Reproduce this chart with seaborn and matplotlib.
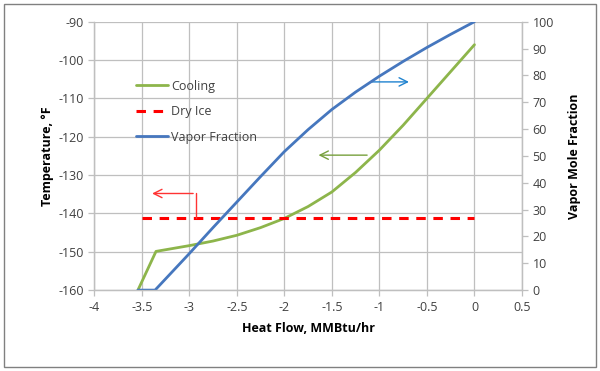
import numpy as np
import pandas as pd
import seaborn as sns
import matplotlib.pyplot as plt
from matplotlib.patches import Rectangle

# values
cool_x = [-3.54, -3.35, -3.0, -2.75, -2.5, -2.25, -2.0, -1.75, -1.5, -1.25, -1.0, -0.75, -0.5, -0.25, 0.0]
cool_t = [-160, -149.9, -148.4, -147.2, -145.7, -143.7, -141.3, -138.2, -134.4, -129.3, -123.5, -117.0, -110.0, -103.0, -96.0]

vap_x = [-3.54, -3.36, -3.0, -2.75, -2.5, -2.25, -2.0, -1.75, -1.5, -1.25, -1.0, -0.75, -0.5, -0.25, 0.0]
vap_frac = [0, 0, 13.6, 23.3, 32.8, 42.3, 51.6, 59.8, 67.3, 73.8, 79.7, 85.2, 90.4, 95.3, 100]

ice_x = [-3.5, 0.0]
ice_t = [-141.3, -141.3]

x_ticks = [-4, -3.5, -3, -2.5, -2, -1.5, -1, -0.5, 0, 0.5]
left_ticks = [-160, -150, -140, -130, -120, -110, -100, -90]
right_ticks = [0, 10, 20, 30, 40, 50, 60, 70, 80, 90, 100]

cooling = pd.DataFrame({"x": cool_x, "y": cool_t})
vapor = pd.DataFrame({"x": vap_x, "y": vap_frac})
dry_ice = pd.DataFrame({"x": ice_x, "y": ice_t})

sns.set_style("white")
plt.rcParams["font.family"] = ["Open Sans", "DejaVu Sans"]
plt.rcParams["axes.unicode_minus"] = False

green = "#8DB54B"
blue = "#4677BE"
grid_c = "#BFBFBF"
txt_c = "#404040"

fig = plt.figure(figsize=(6, 3.71), dpi=100)
ax = fig.add_axes([0.157, 0.218, 0.713, 0.7235])
ax2 = ax.twinx()

sns.lineplot(data=cooling, x="x", y="y", ax=ax, color=green, lw=2, label="Cooling", sort=False)
sns.lineplot(data=dry_ice, x="x", y="y", ax=ax, color="red", lw=2.2, ls=(0, (3.1, 2.5)), label="Dry Ice")
sns.lineplot(data=vapor, x="x", y="y", ax=ax2, color=blue, lw=2, label="Vapor Fraction", sort=False)

ax.set_xlim(-4, 0.5)
ax.set_ylim(-160, -90)
ax2.set_ylim(0, 100)
ax.set_xticks(x_ticks)
ax.set_xticklabels([f"{t:g}" for t in x_ticks])
ax.set_yticks(left_ticks)
ax2.set_yticks(right_ticks)

ax.grid(True, color=grid_c, lw=0.9)
ax.set_axisbelow(True)
for a in (ax, ax2):
    for s in a.spines.values():
        s.set_color(grid_c)
        s.set_linewidth(0.9)
    a.tick_params(colors=grid_c, labelcolor=txt_c, labelsize=9, length=4, width=0.9, direction="out")
ax.tick_params(axis="both", which="both", left=True, bottom=True)
ax2.tick_params(axis="y", right=True)
ax.spines["top"].set_visible(False)
ax2.spines["top"].set_visible(False)

ax.set_xlabel("Heat Flow, MMBtu/hr", fontsize=9, fontweight="bold", color="black", labelpad=6)
ax.set_ylabel("Temperature, °F", fontsize=9, fontweight="bold", color="black", labelpad=3)
ax2.set_ylabel("Vapor Mole Fraction", fontsize=9, fontweight="bold", color="black", labelpad=10)

# legend combining both axes
h1, l1 = ax.get_legend_handles_labels()
h2, l2 = ax2.get_legend_handles_labels()
if ax2.get_legend():
    ax2.get_legend().remove()
ax.legend(h1 + h2, l1 + l2, loc="upper left", bbox_to_anchor=(0.071, 0.826), frameon=False,
          fontsize=9, handlelength=2.6, handletextpad=0.25, labelspacing=1.0, labelcolor=txt_c)

# direction arrows
ax.annotate("", xy=(-3.42, -134.8), xytext=(-2.93, -134.8),
            arrowprops=dict(arrowstyle="->,head_length=0.6,head_width=0.3", color="#FF3333", lw=1))
ax.plot([-2.93, -2.93], [-134.8, -141.3], color="#FF3333", lw=1)
ax.annotate("", xy=(-1.67, -124.8), xytext=(-1.1, -124.8),
            arrowprops=dict(arrowstyle="->,head_length=0.6,head_width=0.3", color="#77A03C", lw=1))
ax.annotate("", xy=(-0.66, -105.7), xytext=(-1.11, -105.7),
            arrowprops=dict(arrowstyle="->,head_length=0.6,head_width=0.3", color="#1F82CF", lw=1))

fig.patches.append(Rectangle((0.006, 0.01), 0.988, 0.98, transform=fig.transFigure,
                             fill=False, edgecolor="#808080", lw=1))

fig.savefig("out.png", dpi=100)
